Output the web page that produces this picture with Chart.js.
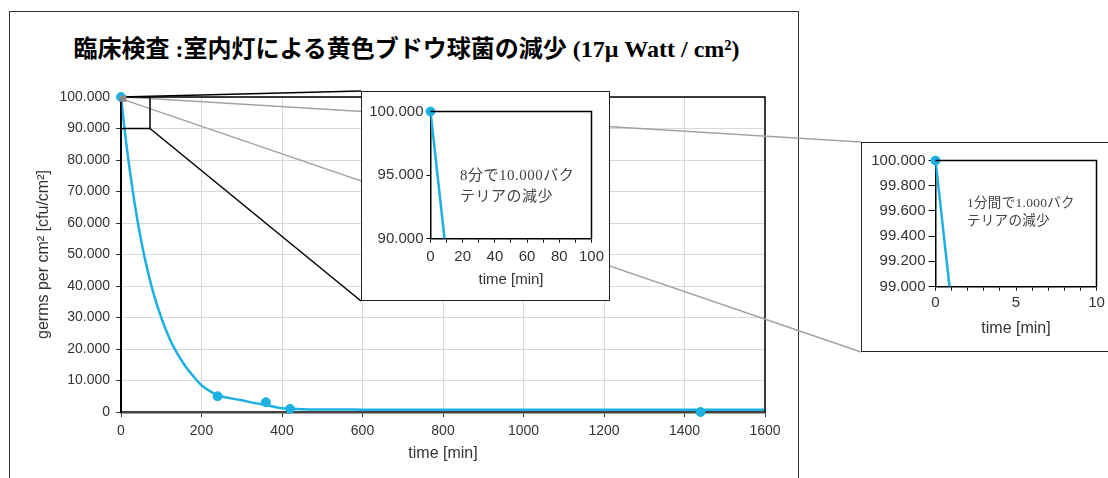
<!DOCTYPE html>
<html lang="ja">
<head>
<meta charset="UTF-8">
<title>黄色ブドウ球菌の減少</title>
<script src="https://cdn.jsdelivr.net/npm/chart.js"></script>
<style>
  body { margin: 0; width: 1108px; height: 478px; overflow: hidden; background: #fff; position: relative; }
  #frame { position: absolute; left: 9px; top: 11px; width: 788px; height: 480px; border: 1.5px solid #333; }
  #title { position: absolute; left: 0; top: 34px; width: 813px; text-align: center; color: #000;
           font: bold 24px/30px "Liberation Serif", "Noto Sans CJK JP", serif; white-space: nowrap; }
  #main { position: absolute; left: 0; top: 0; }
  .inset { position: absolute; background: #fff; border: 1.5px solid #222; }
  .inset canvas { position: absolute; left: 0; top: 0; }
  .note { position: absolute; color: #444; white-space: nowrap; font-family: "Liberation Serif", "Noto Sans CJK JP", serif; }
</style>
</head>
<body>

<div id="frame"></div>
<div id="title">臨床検査 :室内灯による黄色ブドウ球菌の減少 (17μ Watt / cm²)</div>
<canvas id="main" width="1108" height="478"></canvas>

<!-- zoom 0-100 min -->
<div class="inset" id="inset1" style="left:361px; top:91px; width:247px; height:208px;">
  <canvas id="c1" width="247" height="208"></canvas>
  <div class="note" style="left:98px; top:73px; font-size:15px; line-height:21px; letter-spacing:0.5px;">8分で10.000バク<br>テリアの減少</div>
</div>

<!-- zoom 0-10 min -->
<div class="inset" id="inset2" style="left:861px; top:142px; width:260px; height:208px;">
  <canvas id="c2" width="260" height="208"></canvas>
  <div class="note" style="left:105px; top:51px; font-size:13.5px; line-height:18px; letter-spacing:0.3px;">1分間で1.000バク<br>テリアの減少</div>
</div>

<script>
// fitted curve
const curveT = [0, 10, 20, 30, 40, 50, 60, 80, 100, 120, 140, 160, 180, 200, 220, 240, 270, 300, 330, 360, 400, 450, 500, 600, 800, 1000, 1200, 1400, 1600];
const curveV = [100000, 88500, 78500, 69500, 61500, 54500, 48300, 38000, 30000, 23500, 18500, 14500, 11300, 8500, 6700, 5300, 4400, 3700, 2900, 2200, 1200, 900, 800, 750, 700, 700, 700, 700, 700];

// measured points
const pointsT = [0, 240, 360, 420, 1440];
const pointsV = [100000, 5000, 3100, 1000, 0];

// zoom windows (data units)
const zoom1X = [0, 72];
const zoom1Y = [90000, 100000];
const zoom2X = [0, 10];
const zoom2Y = [99000, 100000];

// inset axis labels
const inset1XLabels = [0, 20, 40, 60, 80, 100];
const inset2XLabels = [0, 5, 10];

const CYAN = '#1cb0e3';
Chart.defaults.font.family = '"Liberation Sans", Arial, sans-serif';
Chart.defaults.color = '#333';

const xy = (t, v) => t.map((x, i) => ({x: x, y: v[i]}));
// german thousands separator: 100.000
const de = v => String(Math.round(v)).replace(/\B(?=(\d{3})+(?!\d))/g, '.');

// black top + right edge of plot area
const plotFrame = {
    id: 'plotFrame',
    afterDatasetsDraw(chart) {
        const {ctx, chartArea: a} = chart;
        ctx.save();
        ctx.strokeStyle = '#000';
        ctx.lineWidth = 1.5;
        ctx.beginPath();
        ctx.moveTo(a.left, a.top);
        ctx.lineTo(a.right, a.top);
        ctx.lineTo(a.right, a.bottom);
        ctx.stroke();
        ctx.restore();
    }
};

// zoom rectangles and the lines out to the inset boxes
const zoomLines = {
    id: 'zoomLines',
    afterDraw(chart) {
        const {ctx, scales: {x, y}} = chart;
        const b1 = document.getElementById('inset1').getBoundingClientRect();
        const b2 = document.getElementById('inset2').getBoundingClientRect();
        const seg = (x0, y0, x1, y1) => { ctx.beginPath(); ctx.moveTo(x0, y0); ctx.lineTo(x1, y1); ctx.stroke(); };

        ctx.save();
        const gx0 = x.getPixelForValue(zoom2X[0]), gx1 = x.getPixelForValue(zoom2X[1]);
        const gy0 = y.getPixelForValue(zoom2Y[1]), gy1 = y.getPixelForValue(zoom2Y[0]);
        ctx.strokeStyle = '#a3a3a3';
        ctx.lineWidth = 1.5;
        seg(gx1, gy0, b2.left, b2.top);
        seg(gx1, gy1, b2.left, b2.bottom);

        const bx0 = x.getPixelForValue(zoom1X[0]), bx1 = x.getPixelForValue(zoom1X[1]);
        const by0 = y.getPixelForValue(zoom1Y[1]), by1 = y.getPixelForValue(zoom1Y[0]);
        ctx.strokeStyle = '#000';
        ctx.lineWidth = 1.5;
        ctx.strokeRect(bx0, by0, bx1 - bx0, by1 - by0);
        seg(bx0, by0, b1.left, b1.top);
        seg(bx1, by1, b1.left, b1.bottom);

        ctx.strokeStyle = '#8a8a8a';
        ctx.lineWidth = 3;
        ctx.strokeRect(gx0, gy0, gx1 - gx0, gy1 - gy0);
        ctx.restore();
    }
};

new Chart(document.getElementById('main'), {
    type: 'scatter',
    data: {
        datasets: [
            { data: xy(curveT, curveV), showLine: true, borderColor: CYAN, borderWidth: 2.5, pointRadius: 0, cubicInterpolationMode: 'monotone' },
            { data: xy(pointsT, pointsV), pointRadius: 4.5, backgroundColor: CYAN, borderColor: CYAN, clip: false }
        ]
    },
    options: {
        responsive: false,
        animation: false,
        events: [],
        layout: { padding: { left: 10, top: 97, right: 343, bottom: 0 } },
        plugins: { legend: { display: false }, tooltip: { enabled: false } },
        scales: {
            x: {
                type: 'linear', min: 0, max: 1600,
                afterFit: s => { s.height = 66; },
                ticks: { stepSize: 200, font: { size: 14 }, padding: 6, maxRotation: 0, callback: v => String(v) },
                grid: { color: '#d9d9d9', tickColor: '#333', tickLength: 5 },
                border: { color: '#444', width: 2.5 },
                title: { display: true, text: 'time [min]', font: { size: 16 }, padding: { top: 0, bottom: 15 } }
            },
            y: {
                min: 0, max: 100000,
                afterFit: s => { s.width = 111; },
                ticks: { stepSize: 10000, font: { size: 14 }, padding: 6, callback: v => de(v) },
                grid: { color: '#d9d9d9', tickColor: '#333', tickLength: 5 },
                border: { color: '#000', width: 2 },
                title: { display: true, text: 'germs per cm² [cfu/cm²]', font: { size: 16 }, padding: { top: 24, bottom: 0 } }
            }
        }
    },
    plugins: [plotFrame, zoomLines]
});

function inset(id, o) {
    new Chart(document.getElementById(id), {
        type: 'scatter',
        data: {
            datasets: [
                { data: xy(curveT, curveV), showLine: true, borderColor: CYAN, borderWidth: 2.5, pointRadius: 0, clip: 0 },
                { data: xy(pointsT, pointsV).filter(p => p.x <= o.x[1] && p.y >= o.y[0]),
                  pointRadius: 4.5, backgroundColor: CYAN, borderColor: CYAN, clip: false }
            ]
        },
        options: {
            responsive: false,
            animation: false,
            events: [],
            layout: { padding: o.padding },
            plugins: { legend: { display: false }, tooltip: { enabled: false } },
            scales: {
                x: {
                    type: 'linear', min: o.x[0], max: o.x[1],
                    afterFit: s => { s.height = o.xHeight; },
                    ticks: { stepSize: o.xStep, autoSkip: false, maxRotation: 0, font: { size: 15 }, padding: o.xPad,
                             callback: v => o.xLabels.includes(v) ? String(v) : '' },
                    grid: { drawOnChartArea: false, tickColor: '#000', tickLength: 4 },
                    border: { color: '#000', width: 1.5 },
                    title: { display: true, text: 'time [min]', font: { size: o.titleSize }, padding: { top: 0, bottom: o.titlePad } }
                },
                y: {
                    min: o.y[0], max: o.y[1],
                    afterFit: s => { s.width = o.yWidth; },
                    ticks: { stepSize: o.yStep, autoSkip: false, font: { size: 15 }, padding: 3, callback: v => de(v) },
                    grid: { drawOnChartArea: false, tickColor: '#000', tickLength: o.yTick },
                    border: { color: '#000', width: 1.5 }
                }
            }
        },
        plugins: [plotFrame]
    });
}

inset('c1', {
    x: [0, 100], y: zoom1Y, xStep: 10, yStep: 5000, xLabels: inset1XLabels,
    padding: { left: 0, top: 19.5, right: 17.5, bottom: 0 },
    yWidth: 68.5, xHeight: 61.5, xPad: 5, yTick: 4, titleSize: 15, titlePad: 11.5
});

inset('c2', {
    x: zoom2X, y: zoom2Y, xStep: 1, yStep: 200, xLabels: inset2XLabels,
    padding: { left: 0, top: 17.5, right: 25.5, bottom: 0 },
    yWidth: 73.5, xHeight: 64.5, xPad: 3, yTick: 7, titleSize: 16, titlePad: 12.5
});
</script>
</body>
</html>
